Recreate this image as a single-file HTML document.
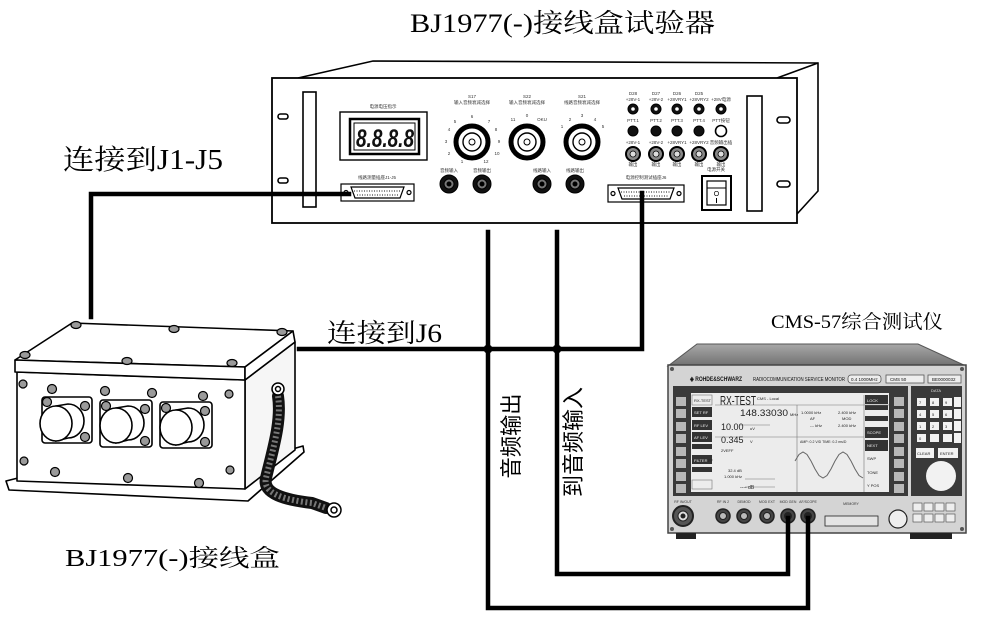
<!DOCTYPE html>
<html><head><meta charset="utf-8"><style>
html,body{margin:0;padding:0;background:#fff;}
svg{display:block;}
.t{font-family:"Liberation Sans","Noto Sans CJK SC",sans-serif;}
.s{font-family:"Liberation Serif","Noto Serif CJK SC",serif;}
</style></head><body>
<svg width="1006" height="641" viewBox="0 0 1006 641" xmlns="http://www.w3.org/2000/svg">
<defs>
<linearGradient id="tg" x1="0" y1="0" x2="0" y2="1"><stop offset="0" stop-color="#a8a8a8"/><stop offset="1" stop-color="#707070"/></linearGradient>
</defs>
<rect width="1006" height="641" fill="#fff"/>

<!-- Titles -->
<text class="s" x="410" y="32" font-size="26" textLength="305" lengthAdjust="spacingAndGlyphs">BJ1977(-)接线盒试验器</text>
<text class="s" x="63" y="169" font-size="28" textLength="160" lengthAdjust="spacingAndGlyphs">连接到J1-J5</text>
<text class="s" x="327" y="342" font-size="26" textLength="115" lengthAdjust="spacingAndGlyphs">连接到J6</text>
<text class="s" x="65" y="566" font-size="24" textLength="215" lengthAdjust="spacingAndGlyphs">BJ1977(-)接线盒</text>
<text class="s" x="771" y="328" font-size="19" textLength="172" lengthAdjust="spacingAndGlyphs">CMS-57综合测试仪</text>
<text class="t" x="519" y="436" font-size="22" text-anchor="middle" textLength="85" lengthAdjust="spacingAndGlyphs" transform="rotate(-90 519 436)">音频输出</text>
<text class="t" x="581" y="442" font-size="22" text-anchor="middle" textLength="110" lengthAdjust="spacingAndGlyphs" transform="rotate(-90 581 442)">到音频输入</text>

<!-- ================= Rack tester ================= -->
<g stroke="#000" fill="none" stroke-width="1.6">
  <polyline points="298,78 373,61 818,63 818,191 797,214"/>
  <line x1="777" y1="78" x2="818" y2="63"/>
  <rect x="272" y="78" width="525" height="145" fill="#fff" stroke-width="1.8"/>
  <rect x="303" y="92" width="13" height="115" fill="#fff"/>
  <rect x="747" y="96" width="15" height="115" fill="#fff"/>
  <rect x="278" y="114" width="10" height="5" rx="2.5"/>
  <rect x="278" y="178" width="10" height="5" rx="2.5"/>
  <rect x="777" y="117" width="13" height="6" rx="3"/>
  <rect x="777" y="181" width="13" height="6" rx="3"/>
  <rect x="340" y="112" width="87" height="48" fill="#fff" stroke-width="1.4"/>
  <rect x="350" y="119" width="69" height="35" stroke-width="2.5"/>
  <rect x="354" y="123" width="61" height="27" stroke-width="1"/>
</g>
<text x="356" y="147" font-family="Liberation Sans" font-size="25" font-style="italic" font-weight="bold" fill="#111" textLength="58" lengthAdjust="spacingAndGlyphs">8.8.8.8</text>
<g class="t" font-size="4.5" fill="#333" text-anchor="middle">
  <text x="383" y="108">电源电压指示</text>
  <text x="377" y="179">线路测量插座J1-J5</text>
  <text x="472" y="98">S17</text><text x="472" y="104">输入音频衰减选择</text>
  <text x="527" y="98">S22</text><text x="527" y="104">输入音频衰减选择</text>
  <text x="582" y="98">S21</text><text x="582" y="104">线路音频衰减选择</text>
  <text x="449" y="172">音频输入</text><text x="482" y="172">音频输出</text>
  <text x="542" y="172">线路输入</text><text x="575" y="172">线路输出</text>
  <text x="646" y="179">电源控制测试插座J6</text>
  <text x="716" y="171">电源开关</text>
  <text x="633" y="95">D28</text><text x="656" y="95">D27</text><text x="677" y="95">D26</text><text x="699" y="95">D25</text>
  <text x="633" y="101">+28V-1</text><text x="656" y="101">+28V-2</text><text x="677" y="101">+28VRY1</text><text x="699" y="101">+28VRY2</text><text x="721" y="101">+28V电源</text>
  <text x="633" y="122">PTT.1</text><text x="656" y="122">PTT.2</text><text x="677" y="122">PTT.3</text><text x="699" y="122">PTT.4</text><text x="721" y="122">PTT按钮</text>
  <text x="633" y="144">+28V-1</text><text x="656" y="144">+28V-2</text><text x="677" y="144">+28VRY1</text><text x="699" y="144">+28VRY2</text><text x="721" y="144">音频输出插</text>
  <text x="633" y="166">输出</text><text x="656" y="166">输出</text><text x="677" y="166">输出</text><text x="699" y="166">输出</text><text x="721" y="166">输出</text>
</g>
<g class="t" font-size="4.5" fill="#333" text-anchor="middle">
  <text x="455" y="123">5</text><text x="472" y="118">6</text><text x="489" y="123">7</text>
  <text x="449" y="131">4</text><text x="496" y="131">8</text>
  <text x="446" y="143">3</text><text x="499" y="143">9</text>
  <text x="449" y="155">2</text><text x="497" y="155">10</text>
  <text x="462" y="163">1</text><text x="486" y="163">12</text>
  <text x="513" y="121">11</text><text x="527" y="117">0</text><text x="542" y="121">OKU</text>
  <text x="562" y="128">1</text><text x="570" y="121">2</text><text x="582" y="117">3</text><text x="595" y="121">4</text><text x="603" y="128">5</text>
</g>
<g stroke="#000" fill="#fff">
  <circle cx="472" cy="142" r="16" stroke-width="5"/>
  <circle cx="472" cy="142" r="9" stroke-width="1.4"/>
  <circle cx="472" cy="142" r="3" stroke-width="1"/>
  <circle cx="527" cy="142" r="16" stroke-width="5"/>
  <circle cx="527" cy="142" r="9" stroke-width="1.4"/>
  <circle cx="527" cy="142" r="3" stroke-width="1"/>
  <circle cx="582" cy="142" r="16" stroke-width="5"/>
  <circle cx="582" cy="142" r="9" stroke-width="1.4"/>
  <circle cx="582" cy="142" r="3" stroke-width="1"/>
</g>
<g stroke="#000">
  <circle cx="449" cy="184" r="9" fill="#111"/><circle cx="449" cy="184" r="5" fill="#777" stroke-width="1"/><circle cx="449" cy="184" r="2" fill="#000"/>
  <circle cx="482" cy="184" r="9" fill="#111"/><circle cx="482" cy="184" r="5" fill="#777" stroke-width="1"/><circle cx="482" cy="184" r="2" fill="#000"/>
  <circle cx="542" cy="184" r="9" fill="#111"/><circle cx="542" cy="184" r="5" fill="#777" stroke-width="1"/><circle cx="542" cy="184" r="2" fill="#000"/>
  <circle cx="575" cy="184" r="9" fill="#111"/><circle cx="575" cy="184" r="5" fill="#777" stroke-width="1"/><circle cx="575" cy="184" r="2" fill="#000"/>
</g>
<g stroke="#000">
  <g fill="#111"><circle cx="633" cy="109" r="5"/><circle cx="656" cy="109" r="5"/><circle cx="677" cy="109" r="5"/><circle cx="699" cy="109" r="5"/><circle cx="721" cy="109" r="5"/></g>
  <g fill="#fff" stroke="none"><circle cx="633" cy="109" r="1.8"/><circle cx="656" cy="109" r="1.8"/><circle cx="677" cy="109" r="1.8"/><circle cx="699" cy="109" r="1.8"/><circle cx="721" cy="109" r="1.8"/></g>
  <g fill="#111"><circle cx="633" cy="131" r="5"/><circle cx="656" cy="131" r="5"/><circle cx="677" cy="131" r="5"/><circle cx="699" cy="131" r="5"/></g>
  <circle cx="721" cy="131" r="5.5" fill="#fff" stroke-width="1.6"/>
  <g fill="#888" stroke-width="2"><circle cx="633" cy="154" r="7"/><circle cx="656" cy="154" r="7"/><circle cx="677" cy="154" r="7"/><circle cx="699" cy="154" r="7"/><circle cx="721" cy="154" r="7"/></g>
  <g fill="#ddd" stroke-width="0.8"><circle cx="633" cy="154" r="3"/><circle cx="656" cy="154" r="3"/><circle cx="677" cy="154" r="3"/><circle cx="699" cy="154" r="3"/><circle cx="721" cy="154" r="3"/></g>
</g>
<g stroke="#000" fill="#fff" stroke-width="1.2">
  <rect x="341" y="184" width="73" height="17"/>
  <circle cx="346" cy="192.5" r="2"/><circle cx="409" cy="192.5" r="2"/>
  <path d="M351,187 L404,187 L400,198 L355,198 Z"/>
  <rect x="608" y="185" width="76" height="17"/>
  <circle cx="613" cy="193.5" r="2"/><circle cx="679" cy="193.5" r="2"/>
  <path d="M618,188 L674,188 L670,199 L622,199 Z"/>
</g>
<g stroke="#444" stroke-width="1.2" stroke-dasharray="1,1.5">
  <line x1="354" y1="191" x2="401" y2="191"/><line x1="357" y1="195" x2="398" y2="195"/>
  <line x1="621" y1="192" x2="671" y2="192"/><line x1="624" y1="196" x2="668" y2="196"/>
</g>
<g stroke="#000" fill="#fff">
  <rect x="702" y="176" width="29" height="34" stroke-width="2"/>
  <rect x="707" y="181" width="19" height="24" stroke-width="1.2"/>
  <line x1="707" y1="188" x2="726" y2="188" stroke-width="1"/>
</g>
<text x="716.5" y="196" font-family="Liberation Sans" font-size="7" text-anchor="middle">O</text>
<line x1="716.5" y1="198" x2="716.5" y2="203" stroke="#000" stroke-width="1"/>

<!-- ================= Junction box ================= -->
<g stroke="#000" stroke-width="1.6" fill="#fff" stroke-linejoin="round">
  <polygon points="6,481 18,478 245,488 296,448 303,446 304,452 248,501 9,490"/>
  <polygon points="245,380 295,342 295,450 245,489" fill="#f6f6f6"/>
  <polygon points="17,372 245,380 245,489 17,481"/>
  <polygon points="15,360 72,323 293,331 245,367"/>
  <polygon points="15,360 245,367 245,380 15,372"/>
  <polygon points="245,367 293,331 295,342 245,380"/>
  <rect x="42" y="397" width="50" height="46" rx="3"/>
  <rect x="100" y="400" width="52" height="47" rx="3"/>
  <rect x="160" y="402" width="52" height="46" rx="3"/>
</g>
<g stroke="#000" stroke-width="1.2" fill="#9a9a9a">
  <ellipse cx="76" cy="325" rx="5" ry="3.5"/><ellipse cx="174" cy="329" rx="5" ry="3.5"/><ellipse cx="282" cy="332" rx="5" ry="3.5"/>
  <ellipse cx="25" cy="355" rx="5" ry="3.5"/><ellipse cx="127" cy="361" rx="5" ry="3.5"/><ellipse cx="232" cy="363" rx="5" ry="3.5"/>
  <circle cx="23" cy="384" r="4"/><circle cx="52" cy="389" r="4.5"/><circle cx="105" cy="391" r="4.5"/><circle cx="152" cy="393" r="4.5"/><circle cx="203" cy="396" r="4.5"/><circle cx="229" cy="394" r="4"/>
  <circle cx="24" cy="461" r="4"/><circle cx="55" cy="472" r="4.5"/><circle cx="128" cy="478" r="4.5"/><circle cx="199" cy="483" r="4.5"/><circle cx="230" cy="470" r="4"/>
  <circle cx="47" cy="402" r="4.5"/><circle cx="85" cy="406" r="4.5"/><circle cx="85" cy="437" r="4.5"/>
  <circle cx="106" cy="406" r="4.5"/><circle cx="145" cy="409" r="4.5"/><circle cx="145" cy="441" r="4.5"/>
  <circle cx="166" cy="408" r="4.5"/><circle cx="205" cy="411" r="4.5"/><circle cx="205" cy="442" r="4.5"/>
</g>
<g stroke="#000" stroke-width="1.6" fill="#fff">
  <path d="M56,406 L68,404 A16,17 0 0 1 68,438 L56,441 Z"/>
  <ellipse cx="56" cy="423.5" rx="16" ry="17.5"/>
  <path d="M116,408 L128,406 A16,17 0 0 1 128,440 L116,443 Z"/>
  <ellipse cx="116" cy="425.5" rx="16" ry="17.5"/>
  <path d="M176,410 L188,408 A16,17 0 0 1 188,442 L176,445 Z"/>
  <ellipse cx="176" cy="427.5" rx="16" ry="17.5"/>
</g>
<path d="M278,396 C282,422 272,452 266,478 C262,494 286,500 312,503 L326,508" fill="none" stroke="#111" stroke-width="12" stroke-linecap="round"/>
<path d="M278,396 C282,422 272,452 266,478 C262,494 286,500 312,503 L326,508" fill="none" stroke="#777" stroke-width="6" stroke-dasharray="2,2.5"/>
<g stroke="#000" stroke-width="1.5" fill="#fff">
  <circle cx="278" cy="389" r="6"/><circle cx="278" cy="389" r="2.5"/>
  <circle cx="334" cy="510" r="7"/><circle cx="334" cy="510" r="3"/>
</g>

<!-- ================= CMS-57 ================= -->
<polygon points="697,344 918,344 966,366 668,366" fill="url(#tg)" stroke="#555" stroke-width="1"/>
<rect x="668" y="365" width="298" height="168" fill="#d4d4d4" stroke="#444" stroke-width="1.5"/>
<rect x="676" y="533" width="20" height="6" fill="#222"/><rect x="910" y="533" width="42" height="6" fill="#222"/>
<circle cx="672" cy="369" r="2" fill="#555"/><circle cx="962" cy="369" r="2" fill="#555"/><circle cx="672" cy="529" r="2" fill="#555"/><circle cx="962" cy="529" r="2" fill="#555"/>
<g font-family="Liberation Sans" fill="#111">
  <text x="690" y="381" font-size="6.5" font-weight="bold" textLength="52" lengthAdjust="spacingAndGlyphs">◈ ROHDE&amp;SCHWARZ</text>
  <text x="753" y="381" font-size="5" textLength="92" lengthAdjust="spacingAndGlyphs">RADIOCOMMUNICATION SERVICE MONITOR</text>
</g>
<g fill="#eee" stroke="#555" stroke-width="0.8"><rect x="848" y="375" width="33" height="8" rx="3"/><rect x="886" y="375" width="38" height="8"/><rect x="928" y="375" width="33" height="8"/></g>
<g font-family="Liberation Sans" font-size="4.5" fill="#111"><text x="851" y="381">0.4 1000MHz</text><text x="890" y="381">CMS 50</text><text x="932" y="381">BE0000032</text></g>
<rect x="673" y="386" width="235" height="110" fill="#3a3a3a"/>
<rect x="911" y="386" width="51" height="110" fill="#3a3a3a"/>
<text x="936" y="392" font-family="Liberation Sans" font-size="4" fill="#ddd" text-anchor="middle">DATA</text>
<g fill="#b8b8b8">
  <rect x="676" y="397" width="10" height="9"/><rect x="676" y="409" width="10" height="9"/><rect x="676" y="422" width="10" height="9"/><rect x="676" y="434" width="10" height="9"/><rect x="676" y="447" width="10" height="9"/><rect x="676" y="459" width="10" height="9"/><rect x="676" y="472" width="10" height="9"/><rect x="676" y="484" width="10" height="9"/>
  <rect x="894" y="397" width="10" height="9"/><rect x="894" y="409" width="10" height="9"/><rect x="894" y="422" width="10" height="9"/><rect x="894" y="434" width="10" height="9"/><rect x="894" y="447" width="10" height="9"/><rect x="894" y="459" width="10" height="9"/><rect x="894" y="472" width="10" height="9"/><rect x="894" y="484" width="10" height="9"/>
</g>
<rect x="691" y="393" width="198" height="99" fill="#ececec"/>
<g fill="#333">
  <rect x="692" y="407" width="20" height="10"/><rect x="692" y="420" width="20" height="10"/><rect x="692" y="432" width="20" height="10"/>
  <rect x="692" y="444" width="20" height="5"/><rect x="692" y="455" width="20" height="9"/><rect x="692" y="467" width="20" height="5"/>
  <rect x="865" y="395" width="23" height="9"/><rect x="865" y="405" width="23" height="5"/><rect x="865" y="416" width="23" height="5"/><rect x="865" y="427" width="23" height="11"/><rect x="865" y="440" width="23" height="11"/>
</g>
<g stroke="#777" stroke-width="0.6" fill="none">
  <rect x="692" y="395" width="20" height="10"/><rect x="692" y="480" width="20" height="9"/>
  <line x1="715" y1="405" x2="889" y2="405"/><line x1="797" y1="405" x2="797" y2="492"/><line x1="715" y1="437" x2="864" y2="437"/>
  <line x1="864" y1="395" x2="864" y2="492"/><line x1="740" y1="425" x2="770" y2="425"/><line x1="745" y1="479" x2="775" y2="479"/><line x1="745" y1="487" x2="775" y2="487"/>
</g>
<polyline points="795,461 799,454.5 803,452 807,454.5 811,461 815,469 819,475.5 823,478 827,475.5 831,469 835,461 839,454.5 843,452 847,454.5 851,461 855,469 859,475.5 863,478" fill="none" stroke="#666" stroke-width="1"/>
<g font-family="Liberation Sans" fill="#222">
  <text x="720" y="405" font-size="13" textLength="36" lengthAdjust="spacingAndGlyphs">RX-TEST</text>
  <text x="757" y="400" font-size="4">CMS - Local</text>
  <text x="694" y="402" font-size="4">RX-TEST</text>
  <text x="740" y="416" font-size="9" textLength="48" lengthAdjust="spacingAndGlyphs">148.33030</text><text x="790" y="416" font-size="4">MHz</text>
  <text x="721" y="430" font-size="9">10.00</text><text x="750" y="430" font-size="4">uV</text>
  <text x="721" y="443" font-size="9">0.345</text><text x="750" y="443" font-size="4">V</text>
  <text x="721" y="452" font-size="4">2VEFF</text><text x="705" y="462" font-size="4">OFF</text>
  <text x="728" y="472" font-size="4">32.4 dB</text><text x="724" y="478" font-size="4">1.000 kHz</text><text x="740" y="489" font-size="5">---- dB</text>
  <text x="801" y="414" font-size="4">1.0000 kHz</text><text x="838" y="414" font-size="4">2.400 kHz</text>
  <text x="810" y="420" font-size="4">AF</text><text x="842" y="420" font-size="4">MOD</text>
  <text x="810" y="427" font-size="4">--- kHz</text><text x="838" y="427" font-size="4">2.400 kHz</text>
  <text x="800" y="443" font-size="3.5">AMP: 0.2 V/D   TIME: 0.2 ms/D</text>
  <text x="867" y="460" font-size="4">SWP</text><text x="867" y="474" font-size="4">TONE</text><text x="867" y="487" font-size="4">Y POS</text>
</g>
<g font-family="Liberation Sans" fill="#eee" font-size="4">
  <text x="694" y="414">SET RF</text><text x="694" y="427">RF LEV</text><text x="694" y="439">AF LEV</text><text x="694" y="462">FILTER</text>
  <text x="867" y="402">LOCK</text><text x="867" y="434">SCOPE</text><text x="867" y="447">NEXT</text>
</g>
<g fill="#f2f2f2">
  <rect x="917" y="398" width="9" height="8"/><rect x="930" y="398" width="9" height="8"/><rect x="943" y="398" width="9" height="8"/><rect x="954" y="397" width="7" height="10"/>
  <rect x="917" y="410" width="9" height="8"/><rect x="930" y="410" width="9" height="8"/><rect x="943" y="410" width="9" height="8"/><rect x="954" y="409" width="7" height="10"/>
  <rect x="917" y="422" width="9" height="8"/><rect x="930" y="422" width="9" height="8"/><rect x="943" y="422" width="9" height="8"/><rect x="954" y="421" width="7" height="10"/>
  <rect x="917" y="434" width="9" height="8"/><rect x="930" y="434" width="9" height="8"/><rect x="943" y="434" width="9" height="8"/><rect x="954" y="433" width="7" height="10"/>
  <rect x="916" y="448" width="18" height="10"/><rect x="938" y="448" width="20" height="10"/>
  <circle cx="941" cy="476" r="15"/>
</g>
<g font-family="Liberation Sans" font-size="4" fill="#222">
  <text x="919" y="404">7</text><text x="932" y="404">8</text><text x="945" y="404">9</text>
  <text x="919" y="416">4</text><text x="932" y="416">5</text><text x="945" y="416">6</text>
  <text x="919" y="428">1</text><text x="932" y="428">2</text><text x="945" y="428">3</text>
  <text x="919" y="440">0</text><text x="917" y="455">CLEAR</text><text x="940" y="455">ENTER</text>
</g>
<g font-family="Liberation Sans" font-size="3.5" fill="#333" text-anchor="middle">
  <text x="683" y="503">RF IN/OUT</text><text x="723" y="503">RF IN 2</text><text x="744" y="503">DEMOD</text><text x="767" y="503">MOD EXT</text><text x="788" y="503">MOD GEN</text><text x="808" y="503">AF/SCOPE</text><text x="851" y="505">MEMORY</text>
</g>
<g stroke="#222">
  <circle cx="683" cy="516" r="10" fill="#555" stroke-width="2"/><circle cx="683" cy="516" r="5" fill="#ddd" stroke-width="1"/><circle cx="683" cy="516" r="2" fill="#222"/>
  <circle cx="723" cy="516" r="7" fill="#444" stroke-width="1.5"/><circle cx="723" cy="516" r="3.5" fill="#bbb"/>
  <circle cx="744" cy="516" r="7" fill="#444" stroke-width="1.5"/><circle cx="744" cy="516" r="3.5" fill="#bbb"/>
  <circle cx="767" cy="516" r="7" fill="#444" stroke-width="1.5"/><circle cx="767" cy="516" r="3.5" fill="#bbb"/>
  <circle cx="788" cy="516" r="7" fill="#444" stroke-width="1.5"/><circle cx="788" cy="516" r="3.5" fill="#222"/>
  <circle cx="808" cy="516" r="7" fill="#444" stroke-width="1.5"/><circle cx="808" cy="516" r="3.5" fill="#222"/>
  <rect x="825" y="516" width="53" height="10" fill="#e4e4e4" stroke-width="0.8"/>
  <circle cx="898" cy="519" r="9" fill="#eee" stroke-width="1.2"/>
</g>
<g fill="#eee" stroke="#444" stroke-width="0.6">
  <rect x="913" y="503" width="9" height="8"/><rect x="924" y="503" width="9" height="8"/><rect x="935" y="503" width="9" height="8"/><rect x="946" y="503" width="9" height="8"/>
  <rect x="913" y="514" width="9" height="8"/><rect x="924" y="514" width="9" height="8"/><rect x="935" y="514" width="9" height="8"/><rect x="946" y="514" width="9" height="8"/>
</g>

<!-- ================= Connection lines ================= -->
<g stroke="#000" stroke-width="4.5" fill="none" stroke-linejoin="miter" stroke-linecap="square">
  <polyline points="349,194 91,194 91,317"/>
  <polyline points="642,193 642,349 299,349"/>
  <polyline points="488,232 488,608 808,608 808,518"/>
  <polyline points="557,232 557,574 788,574 788,518"/>
</g>
<circle cx="488" cy="349" r="4.5" fill="#000"/>
<circle cx="557" cy="349" r="4.5" fill="#000"/>
</svg>
</body></html>
